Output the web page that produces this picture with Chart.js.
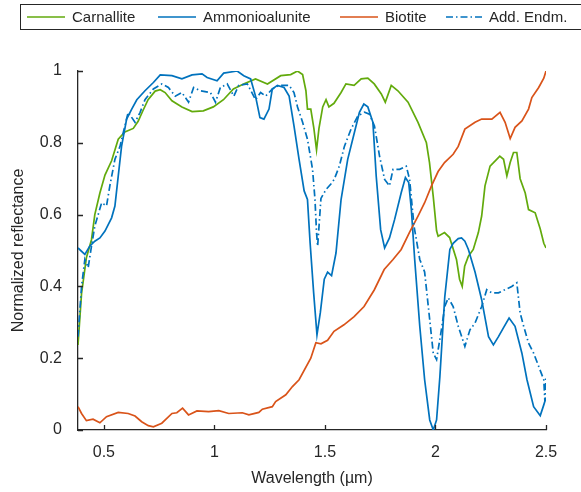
<!DOCTYPE html>
<html>
<head>
<meta charset="utf-8">
<script src="https://cdn.jsdelivr.net/npm/chart.js@4.4.1/dist/chart.umd.min.js"></script>
<style>
  html, body { margin: 0; padding: 0; background: #fff; }
  #wrap { width: 581px; height: 492px; position: relative; }
</style>
</head>
<body>
<div id="wrap"><canvas id="spectra"></canvas></div>
<script>
// Series names (legend order)
const seriesNames = ['Carnallite', 'Ammonioalunite', 'Biotite', 'Add. Endm.'];

// Carnallite
const carnalliteX = [0.383, 0.399, 0.421, 0.444, 0.459, 0.482, 0.505, 0.535, 0.565, 0.595, 0.633, 0.655, 0.677, 0.700, 0.732, 0.755, 0.777, 0.808, 0.853, 0.899, 0.950, 0.995, 1.041, 1.086, 1.132, 1.186, 1.240, 1.300, 1.345, 1.376, 1.399, 1.414, 1.421, 1.436, 1.450, 1.462, 1.473, 1.490, 1.505, 1.518, 1.541, 1.573, 1.595, 1.632, 1.664, 1.694, 1.723, 1.755, 1.773, 1.800, 1.830, 1.876, 1.921, 1.959, 1.973, 1.990, 2.005, 2.012, 2.041, 2.064, 2.095, 2.109, 2.121, 2.132, 2.149, 2.171, 2.194, 2.209, 2.224, 2.247, 2.277, 2.291, 2.308, 2.323, 2.338, 2.353, 2.368, 2.383, 2.406, 2.421, 2.451, 2.474, 2.490, 2.500];
const carnalliteY = [0.237, 0.38, 0.48, 0.53, 0.60, 0.66, 0.71, 0.75, 0.81, 0.83, 0.84, 0.86, 0.89, 0.92, 0.944, 0.948, 0.94, 0.917, 0.90, 0.887, 0.889, 0.90, 0.92, 0.95, 0.964, 0.978, 0.964, 0.987, 0.99, 1.0, 0.99, 0.945, 0.894, 0.894, 0.84, 0.78, 0.84, 0.90, 0.92, 0.90, 0.91, 0.94, 0.964, 0.96, 0.978, 0.98, 0.964, 0.936, 0.913, 0.96, 0.945, 0.913, 0.857, 0.80, 0.745, 0.65, 0.555, 0.54, 0.55, 0.536, 0.475, 0.42, 0.40, 0.456, 0.484, 0.503, 0.55, 0.596, 0.68, 0.735, 0.754, 0.763, 0.754, 0.708, 0.745, 0.773, 0.773, 0.70, 0.66, 0.614, 0.605, 0.56, 0.52, 0.507];

// Ammonioalunite
const ammonioX = [0.383, 0.414, 0.436, 0.459, 0.482, 0.505, 0.535, 0.550, 0.565, 0.580, 0.603, 0.626, 0.649, 0.686, 0.724, 0.755, 0.808, 0.853, 0.899, 0.944, 0.967, 1.012, 1.042, 1.103, 1.133, 1.164, 1.186, 1.206, 1.224, 1.247, 1.262, 1.285, 1.315, 1.338, 1.360, 1.383, 1.406, 1.421, 1.433, 1.449, 1.464, 1.479, 1.497, 1.512, 1.530, 1.550, 1.573, 1.603, 1.633, 1.656, 1.676, 1.694, 1.717, 1.732, 1.752, 1.770, 1.792, 1.815, 1.845, 1.864, 1.879, 1.891, 1.906, 1.929, 1.951, 1.974, 1.990, 2.005, 2.020, 2.042, 2.065, 2.080, 2.103, 2.118, 2.133, 2.149, 2.179, 2.209, 2.240, 2.262, 2.285, 2.308, 2.333, 2.360, 2.391, 2.414, 2.444, 2.474, 2.490, 2.500];
const ammonioY = [0.507, 0.489, 0.512, 0.526, 0.535, 0.554, 0.591, 0.624, 0.707, 0.79, 0.866, 0.894, 0.92, 0.945, 0.968, 0.989, 0.987, 0.978, 0.989, 0.992, 0.982, 0.973, 0.994, 1.0, 0.987, 0.978, 0.93, 0.87, 0.866, 0.894, 0.95, 0.96, 0.954, 0.93, 0.847, 0.754, 0.666, 0.642, 0.521, 0.382, 0.265, 0.326, 0.42, 0.44, 0.43, 0.493, 0.642, 0.754, 0.828, 0.885, 0.908, 0.90, 0.857, 0.707, 0.558, 0.507, 0.535, 0.586, 0.661, 0.703, 0.689, 0.614, 0.475, 0.289, 0.14, 0.028, 0.0, 0.028, 0.149, 0.37, 0.503, 0.52, 0.533, 0.535, 0.526, 0.503, 0.44, 0.363, 0.26, 0.237, 0.26, 0.285, 0.312, 0.289, 0.214, 0.14, 0.065, 0.04, 0.07, 0.09];

// Biotite
const biotiteX = [0.383, 0.399, 0.421, 0.451, 0.482, 0.512, 0.565, 0.610, 0.641, 0.671, 0.701, 0.724, 0.762, 0.808, 0.830, 0.856, 0.883, 0.921, 0.974, 1.020, 1.065, 1.126, 1.156, 1.201, 1.217, 1.262, 1.277, 1.323, 1.353, 1.383, 1.436, 1.459, 1.482, 1.512, 1.541, 1.586, 1.632, 1.677, 1.723, 1.768, 1.808, 1.845, 1.882, 1.921, 1.951, 1.982, 2.012, 2.041, 2.080, 2.103, 2.133, 2.179, 2.209, 2.255, 2.292, 2.315, 2.338, 2.360, 2.391, 2.421, 2.436, 2.467, 2.490, 2.500];
const biotiteY = [0.065, 0.046, 0.026, 0.03, 0.02, 0.037, 0.049, 0.046, 0.039, 0.023, 0.012, 0.009, 0.019, 0.046, 0.048, 0.061, 0.042, 0.053, 0.051, 0.054, 0.046, 0.048, 0.042, 0.049, 0.058, 0.065, 0.079, 0.098, 0.121, 0.14, 0.2, 0.243, 0.24, 0.25, 0.275, 0.293, 0.316, 0.344, 0.39, 0.447, 0.475, 0.503, 0.55, 0.596, 0.633, 0.68, 0.72, 0.745, 0.768, 0.79, 0.838, 0.857, 0.866, 0.866, 0.885, 0.857, 0.812, 0.843, 0.861, 0.894, 0.926, 0.954, 0.98, 1.0];

// Additional endmember
const endmX = [0.383, 0.399, 0.414, 0.429, 0.444, 0.459, 0.490, 0.512, 0.527, 0.550, 0.573, 0.595, 0.610, 0.641, 0.664, 0.686, 0.724, 0.762, 0.792, 0.823, 0.853, 0.883, 0.906, 0.936, 0.982, 1.005, 1.027, 1.058, 1.088, 1.110, 1.149, 1.186, 1.209, 1.232, 1.262, 1.292, 1.338, 1.360, 1.376, 1.399, 1.421, 1.444, 1.455, 1.462, 1.467, 1.482, 1.505, 1.527, 1.542, 1.565, 1.588, 1.618, 1.649, 1.679, 1.701, 1.724, 1.747, 1.770, 1.792, 1.808, 1.838, 1.868, 1.883, 1.903, 1.929, 1.951, 1.970, 1.990, 2.005, 2.027, 2.042, 2.058, 2.080, 2.103, 2.118, 2.133, 2.156, 2.179, 2.209, 2.232, 2.255, 2.285, 2.315, 2.345, 2.368, 2.383, 2.399, 2.421, 2.444, 2.467, 2.490, 2.495, 2.500];
const endmY = [0.26, 0.40, 0.475, 0.452, 0.512, 0.568, 0.633, 0.624, 0.68, 0.754, 0.79, 0.847, 0.885, 0.857, 0.885, 0.92, 0.95, 0.964, 0.954, 0.93, 0.94, 0.913, 0.954, 0.945, 0.94, 0.913, 0.954, 0.964, 0.93, 0.96, 0.964, 0.92, 0.94, 0.93, 0.95, 0.96, 0.96, 0.94, 0.90, 0.857, 0.81, 0.726, 0.642, 0.55, 0.512, 0.645, 0.67, 0.685, 0.698, 0.735, 0.79, 0.838, 0.875, 0.885, 0.88, 0.847, 0.763, 0.698, 0.68, 0.726, 0.726, 0.735, 0.698, 0.568, 0.475, 0.44, 0.33, 0.214, 0.196, 0.28, 0.344, 0.368, 0.344, 0.289, 0.261, 0.233, 0.279, 0.298, 0.344, 0.391, 0.382, 0.382, 0.391, 0.40, 0.41, 0.326, 0.289, 0.242, 0.214, 0.177, 0.14, 0.08, 0.15];

// Tick positions
const xTicks = [0.5, 1, 1.5, 2, 2.5];
const yTicks = [0, 0.2, 0.4, 0.6, 0.8, 1];

const axisColor = '#262626';
const fontFamily = "'Liberation Sans', Arial, sans-serif";

function toPoints(xs, ys) {
    return xs.map((x, i) => ({ x: x, y: ys[i] }));
}

// Inward tick marks like the original plotting tool
const innerTicks = {
    id: 'innerTicks',
    afterDraw(chart) {
        const ctx = chart.ctx;
        const area = chart.chartArea;
        const xs = chart.scales.x;
        const ys = chart.scales.y;
        ctx.save();
        ctx.strokeStyle = axisColor;
        ctx.lineWidth = 1.3;
        ctx.beginPath();
        xTicks.forEach(v => {
            const px = Math.round(xs.getPixelForValue(v)) + 0.5;
            ctx.moveTo(px, area.bottom);
            ctx.lineTo(px, area.bottom - 5);
        });
        yTicks.forEach(v => {
            const py = Math.round(ys.getPixelForValue(v)) + 0.5;
            ctx.moveTo(area.left, py);
            ctx.lineTo(area.left + 5, py);
        });
        ctx.stroke();
        ctx.restore();
    }
};

// Boxed legend across the top
const boxLegend = {
    id: 'boxLegend',
    afterDraw(chart) {
        const ctx = chart.ctx;
        const slots = [
            { line: 27, text: 72 },
            { line: 158, text: 203 },
            { line: 340, text: 385 },
            { line: 446, text: 489 }
        ];
        ctx.save();
        ctx.fillStyle = '#fff';
        ctx.fillRect(20.5, 4.5, 570, 25);
        ctx.strokeStyle = axisColor;
        ctx.lineWidth = 1;
        ctx.strokeRect(20.5, 4.5, 570, 25);
        ctx.font = '15px ' + fontFamily;
        ctx.textBaseline = 'middle';
        chart.data.datasets.forEach((ds, i) => {
            const s = slots[i];
            ctx.strokeStyle = ds.borderColor;
            ctx.lineWidth = ds.borderWidth;
            ctx.setLineDash(ds.borderDash || []);
            ctx.beginPath();
            ctx.moveTo(s.line, 17);
            ctx.lineTo(s.line + 38, 17);
            ctx.stroke();
            ctx.setLineDash([]);
            ctx.fillStyle = axisColor;
            ctx.fillText(ds.label, s.text, 17.5);
        });
        ctx.restore();
    }
};

document.addEventListener('DOMContentLoaded', function() {
    const canvas = document.getElementById('spectra');
    const colors = ['#62aa0c', '#0072bd', '#d95319', '#0072bd'];
    const pointSets = [
        toPoints(carnalliteX, carnalliteY),
        toPoints(ammonioX, ammonioY),
        toPoints(biotiteX, biotiteY),
        toPoints(endmX, endmY)
    ];

    new Chart(canvas, {
        type: 'line',
        data: {
            datasets: seriesNames.map((name, i) => ({
                label: name,
                data: pointSets[i],
                borderColor: colors[i],
                borderWidth: 1.7,
                borderDash: i === 3 ? [7, 3, 1.5, 3] : [],
                pointRadius: 0,
                tension: 0,
                fill: false,
                order: 4 - i
            }))
        },
        options: {
            responsive: true,
            maintainAspectRatio: false,
            animation: false,
            layout: { padding: { top: 71, right: 35, left: 7, bottom: 0 } },
            scales: {
                x: {
                    type: 'linear',
                    min: 0.383,
                    max: 2.5,
                    afterBuildTicks: scale => { scale.ticks = xTicks.map(v => ({ value: v })); },
                    afterFit: scale => { scale.height = 62; },
                    grid: { display: false },
                    border: { display: true, color: axisColor, width: 1.3 },
                    ticks: {
                        color: axisColor,
                        padding: 5,
                        maxRotation: 0,
                        font: { family: fontFamily, size: 16 },
                        callback: v => String(v)
                    },
                    title: {
                        display: true,
                        text: 'Wavelength (µm)',
                        color: axisColor,
                        padding: { top: 0, bottom: 4 },
                        font: { family: fontFamily, size: 16 }
                    }
                },
                y: {
                    min: 0,
                    max: 1,
                    afterBuildTicks: scale => { scale.ticks = yTicks.map(v => ({ value: v })); },
                    afterFit: scale => { scale.width = 71; },
                    grid: { display: false },
                    border: { display: true, color: axisColor, width: 1.3 },
                    ticks: {
                        color: axisColor,
                        padding: 8,
                        font: { family: fontFamily, size: 16 },
                        callback: v => String(v)
                    },
                    title: {
                        display: true,
                        text: 'Normalized reflectance',
                        color: axisColor,
                        padding: { top: 2, bottom: 4 },
                        font: { family: fontFamily, size: 16 }
                    }
                }
            },
            plugins: {
                legend: { display: false },
                tooltip: { enabled: false }
            }
        },
        plugins: [innerTicks, boxLegend]
    });
});
</script>
</body>
</html>
